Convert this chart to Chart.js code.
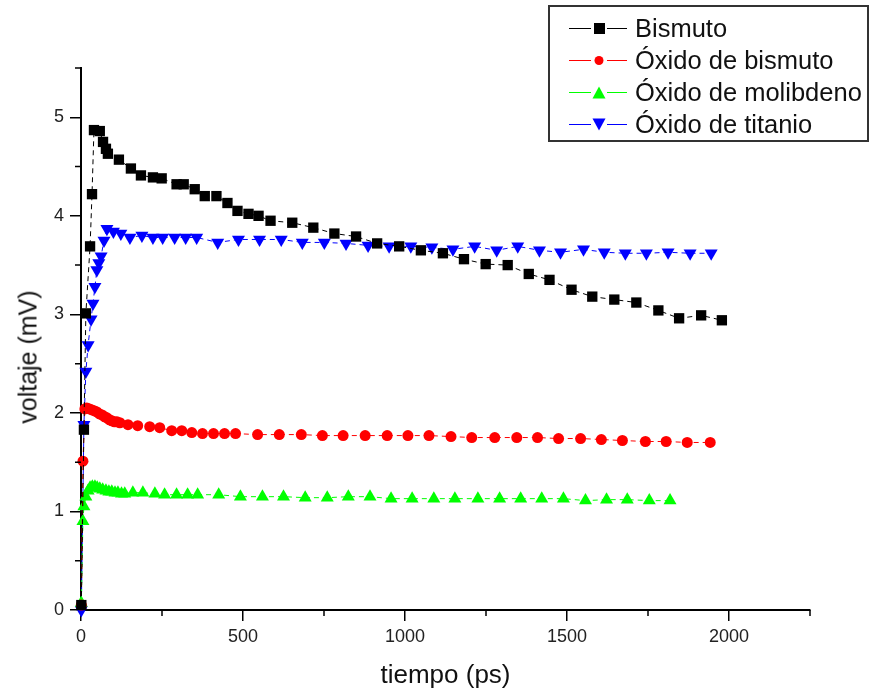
<!DOCTYPE html>
<html>
<head>
<meta charset="utf-8">
<script src="https://cdn.jsdelivr.net/npm/chart.js@4/dist/chart.umd.min.js"></script>
<style>
  html, body { margin: 0; padding: 0; background: #fff; }
  #wrap { position: relative; width: 871px; height: 691px; }
  #legend {
    position: absolute; left: 548px; top: 5px; width: 321px; height: 137px;
    box-sizing: border-box; border: 2px solid #333; background: #fff;
    padding-top: 5px;
    font-family: "Liberation Sans", Arial, sans-serif; font-size: 25.5px; color: #111;
  }
  .row { height: 32px; display: flex; align-items: center; white-space: nowrap; }
  .row canvas { margin-left: 19px; margin-right: 6px; }
  #ytitle {
    position: absolute; left: 28px; top: 357px;
    transform: translate(-50%, -50%) rotate(-90deg);
    font-family: "Liberation Sans", Arial, sans-serif; font-size: 25px; color: #111;
    white-space: nowrap;
  }
</style>
</head>
<body>
<div id="wrap">
  <canvas id="chart" width="871" height="691"></canvas>
  <div id="ytitle">voltaje (mV)</div>
  <div id="legend"></div>
</div>
<script>
// valores
const bismutoX = [1, 9, 15, 28, 34, 40, 58, 68, 77, 83, 117, 154, 185, 222, 249, 295, 317, 351, 382, 418, 452, 483, 517, 548, 585, 652, 717, 782, 849, 914, 982, 1049, 1117, 1182, 1249, 1317, 1382, 1446, 1514, 1578, 1646, 1714, 1782, 1846, 1914, 1978];
const bismutoY = [0.05, 1.83, 3.01, 3.69, 4.22, 4.87, 4.86, 4.75, 4.68, 4.63, 4.57, 4.48, 4.41, 4.39, 4.38, 4.32, 4.32, 4.27, 4.20, 4.20, 4.13, 4.05, 4.02, 4.00, 3.95, 3.93, 3.88, 3.82, 3.79, 3.72, 3.69, 3.65, 3.62, 3.56, 3.51, 3.50, 3.41, 3.35, 3.25, 3.18, 3.15, 3.12, 3.04, 2.96, 2.99, 2.94];

const oxBiX = [1, 6, 12, 18, 26, 34, 42, 49, 57, 65, 73, 80, 88, 95, 103, 111, 120, 145, 175, 212, 243, 280, 311, 342, 375, 409, 443, 477, 545, 612, 680, 745, 809, 877, 945, 1009, 1074, 1142, 1206, 1277, 1345, 1409, 1474, 1542, 1606, 1671, 1742, 1806, 1871, 1942];
const oxBiY = [0.05, 1.51, 2.04, 2.05, 2.04, 2.03, 2.02, 2.01, 1.99, 1.98, 1.96, 1.95, 1.93, 1.92, 1.91, 1.91, 1.90, 1.88, 1.87, 1.86, 1.85, 1.82, 1.82, 1.80, 1.79, 1.79, 1.79, 1.79, 1.78, 1.78, 1.78, 1.77, 1.77, 1.77, 1.77, 1.77, 1.77, 1.76, 1.75, 1.75, 1.75, 1.75, 1.74, 1.74, 1.73, 1.72, 1.71, 1.71, 1.70, 1.70];

const oxMoX = [1, 6, 9, 15, 22, 28, 35, 43, 50, 58, 67, 77, 86, 95, 105, 114, 125, 135, 160, 191, 228, 258, 295, 329, 360, 425, 492, 560, 625, 692, 760, 825, 892, 957, 1022, 1089, 1154, 1225, 1292, 1357, 1422, 1489, 1557, 1622, 1686, 1754, 1818];
const oxMoY = [0.07, 0.9, 1.05, 1.15, 1.21, 1.24, 1.25, 1.25, 1.24, 1.23, 1.22, 1.21, 1.2, 1.2, 1.19, 1.19, 1.18, 1.18, 1.19, 1.19, 1.18, 1.17, 1.17, 1.17, 1.17, 1.17, 1.15, 1.15, 1.15, 1.14, 1.14, 1.15, 1.15, 1.13, 1.13, 1.13, 1.13, 1.13, 1.13, 1.13, 1.13, 1.13, 1.11, 1.12, 1.12, 1.11, 1.11];

const oxTiX = [1, 9, 15, 22, 31, 37, 43, 49, 55, 62, 71, 80, 100, 123, 151, 188, 222, 252, 289, 323, 357, 422, 486, 551, 618, 683, 751, 818, 886, 951, 1018, 1083, 1148, 1215, 1283, 1348, 1415, 1480, 1551, 1615, 1680, 1745, 1812, 1880, 1945];
const oxTiY = [0, 1.88, 2.42, 2.69, 2.95, 3.11, 3.28, 3.45, 3.52, 3.59, 3.75, 3.87, 3.84, 3.82, 3.78, 3.80, 3.78, 3.78, 3.78, 3.78, 3.78, 3.73, 3.76, 3.76, 3.76, 3.73, 3.73, 3.72, 3.70, 3.69, 3.69, 3.68, 3.66, 3.69, 3.65, 3.69, 3.65, 3.63, 3.66, 3.63, 3.62, 3.62, 3.63, 3.62, 3.62];

const xTicks = [0, 500, 1000, 1500, 2000];
const xMinor = [250, 750, 1250, 1750, 2250];
const yTicks = [0, 1, 2, 3, 4, 5];
const yMinor = [0.5, 1.5, 2.5, 3.5, 4.5, 5.5];

const FONT = '"Liberation Sans", Arial, sans-serif';

const pts = (xs, ys) => xs.map((x, i) => ({ x: x, y: ys[i] }));

const series = [
  { label: 'Bismuto', color: '#000000', style: 'rect', radius: 7.3, rotation: 0, xs: bismutoX, ys: bismutoY },
  { label: 'Óxido de bismuto', color: '#ff0000', style: 'circle', radius: 5.5, rotation: 0, xs: oxBiX, ys: oxBiY },
  { label: 'Óxido de molibdeno', color: '#00ff00', style: 'triangle', radius: 7.5, rotation: 0, xs: oxMoX, ys: oxMoY },
  { label: 'Óxido de titanio', color: '#0000ff', style: 'triangle', radius: 7.5, rotation: 180, xs: oxTiX, ys: oxTiY }
];

// ticks menores
const minorTicks = {
  id: 'minorTicks',
  afterDraw(chart) {
    const { ctx, scales: { x, y } } = chart;
    ctx.save();
    ctx.strokeStyle = '#000';
    ctx.lineWidth = 1.5;
    ctx.beginPath();
    xMinor.forEach(v => {
      const px = x.getPixelForValue(v);
      ctx.moveTo(px, y.bottom);
      ctx.lineTo(px, y.bottom + 6);
    });
    yMinor.forEach(v => {
      const py = y.getPixelForValue(v);
      ctx.moveTo(x.left, py);
      ctx.lineTo(x.left - 6, py);
    });
    ctx.stroke();
    ctx.restore();
  }
};

new Chart(document.getElementById('chart'), {
  type: 'line',
  data: {
    datasets: series.map(s => ({
      label: s.label,
      data: pts(s.xs, s.ys),
      borderColor: s.color,
      backgroundColor: s.color,
      borderWidth: 1,
      borderDash: [5, 4],
      pointStyle: s.style,
      pointRadius: s.radius,
      pointRotation: s.rotation,
      pointBorderWidth: 0,
      pointBackgroundColor: s.color,
      tension: 0,
      clip: false
    }))
  },
  options: {
    responsive: false,
    animation: false,
    devicePixelRatio: 1,
    layout: { padding: { top: 68, right: 61, left: 0, bottom: 0 } },
    plugins: {
      legend: { display: false },
      tooltip: { enabled: false }
    },
    scales: {
      x: {
        type: 'linear',
        min: 0,
        max: 2250,
        afterBuildTicks: s => { s.ticks = xTicks.map(v => ({ value: v })); },
        afterFit: s => { s.height = 81; },
        grid: { drawOnChartArea: false, drawTicks: true, tickLength: 11, color: '#000', lineWidth: 1.5 },
        border: { color: '#000', width: 2 },
        ticks: {
          font: { family: FONT, size: 18 },
          color: '#222',
          padding: 5,
          maxRotation: 0,
          callback: v => String(v)
        },
        title: {
          display: true,
          text: 'tiempo (ps)',
          font: { family: FONT, size: 26 },
          color: '#111',
          padding: { top: 0, bottom: 0 }
        }
      },
      y: {
        type: 'linear',
        min: 0,
        max: 5.5,
        afterBuildTicks: s => { s.ticks = yTicks.map(v => ({ value: v })); },
        afterFit: s => { s.width = 81; },
        grid: { drawOnChartArea: false, drawTicks: true, tickLength: 11, color: '#000', lineWidth: 1.5 },
        border: { color: '#000', width: 2 },
        ticks: {
          font: { family: FONT, size: 18 },
          color: '#222',
          padding: 6,
          callback: v => String(v)
        },
        title: { display: false }
      }
    }
  },
  plugins: [minorTicks]
});

// leyenda: línea – marcador – línea
const legend = document.getElementById('legend');
series.forEach(s => {
  const row = document.createElement('div');
  row.className = 'row';
  const c = document.createElement('canvas');
  c.width = 60; c.height = 20;
  const g = c.getContext('2d');
  g.strokeStyle = s.color;
  g.fillStyle = s.color;
  g.lineWidth = 1;
  g.beginPath();
  g.moveTo(0, 10.5); g.lineTo(22, 10.5);
  g.moveTo(38, 10.5); g.lineTo(58, 10.5);
  g.stroke();
  g.beginPath();
  if (s.style === 'rect') {
    g.rect(25, 5, 11, 11);
  } else if (s.style === 'circle') {
    g.arc(30, 10.5, 4.5, 0, Math.PI * 2);
  } else if (s.rotation === 180) {
    g.moveTo(23.5, 4.5); g.lineTo(36.5, 4.5); g.lineTo(30, 16.5);
  } else {
    g.moveTo(23.5, 16.5); g.lineTo(36.5, 16.5); g.lineTo(30, 4.5);
  }
  g.fill();
  const t = document.createElement('span');
  t.textContent = s.label;
  row.appendChild(c);
  row.appendChild(t);
  legend.appendChild(row);
});
</script>
</body>
</html>
